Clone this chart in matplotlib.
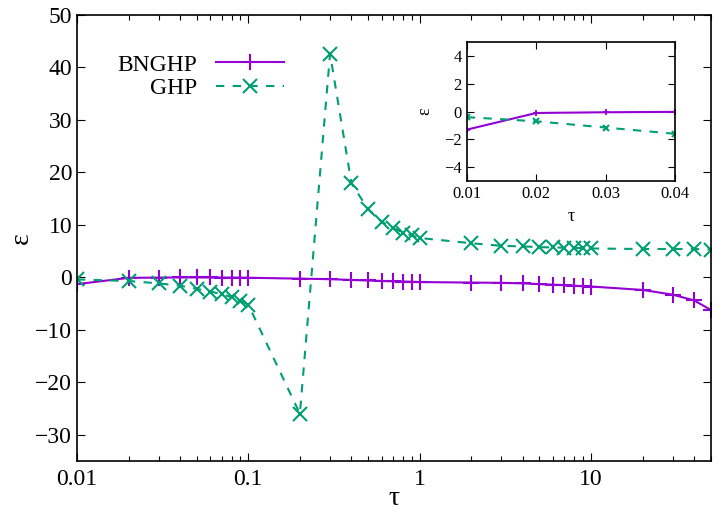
import matplotlib
matplotlib.use("Agg")
import matplotlib.pyplot as plt
from matplotlib.ticker import FixedLocator, LogLocator, NullFormatter

plt.rcParams['font.family'] = ['Liberation Serif', 'DejaVu Serif']
plt.rcParams['axes.unicode_minus'] = True

# data
tau = [0.01, 0.02, 0.03, 0.04, 0.05, 0.06, 0.07, 0.08, 0.09, 0.1,
       0.2, 0.3, 0.4, 0.5, 0.6, 0.7, 0.8, 0.9, 1,
       2, 3, 4, 5, 6, 7, 8, 9, 10, 20, 30, 40, 50]
bnghp = [-1.3, -0.1, -0.05, -0.02, -0.02, -0.03, -0.04, -0.05, -0.06, -0.08,
         -0.25, -0.35, -0.5, -0.6, -0.7, -0.75, -0.8, -0.85, -0.9,
         -1.0, -1.05, -1.15, -1.3, -1.4, -1.5, -1.6, -1.7, -1.75, -2.4, -3.3, -4.4, -6.2]
ghp = [-0.4, -0.7, -1.15, -1.6, -2.2, -2.7, -3.2, -3.8, -4.5, -5.2,
       -26.0, 42.6, 17.9, 13.0, 10.6, 9.4, 8.5, 8.0, 7.5,
       6.5, 6.0, 5.9, 5.75, 5.7, 5.65, 5.6, 5.55, 5.5, 5.4, 5.4, 5.4, 5.3]

inset_tau = tau[:4]
inset_bnghp = bnghp[:4]
inset_ghp = ghp[:4]

purple = '#9400d3'
green = '#009e73'

fig = plt.figure(figsize=(7.26, 5.13), dpi=100)
ax = fig.add_axes([0.106, 0.1014, 0.873, 0.8694])

ax.plot(tau, bnghp, color=purple, lw=1.5, marker='+', ms=11, mew=1.5, label='BNGHP')
ax.plot(tau, ghp, color=green, lw=1.5, ls=(0, (4, 4)), marker='x', ms=10, mew=1.5, label='GHP')

ax.set_xscale('log')
ax.set_xlim(0.01, 50)
ax.set_ylim(-35, 50)
ax.set_xticks([0.01, 0.1, 1, 10])
ax.set_xticklabels(['0.01', '0.1', '1', '10'])
ax.xaxis.set_minor_locator(LogLocator(base=10, subs=range(2, 10)))
ax.xaxis.set_minor_formatter(NullFormatter())
ax.yaxis.set_major_locator(FixedLocator(range(-30, 51, 10)))
ax.tick_params(which='both', direction='in', top=True, right=True, labelsize=17, width=0.8)
ax.tick_params(which='major', length=6)
ax.tick_params(which='minor', length=3.5)
ax.tick_params(axis='x', pad=6)
for s in ax.spines.values():
    s.set_linewidth(1.2)
ax.set_xlabel('τ', fontsize=20)
ax.xaxis.set_label_coords(0.5, -0.055)
ax.set_ylabel('ε', fontsize=20, rotation=90)
ax.yaxis.set_label_coords(-0.068, 0.5)

leg = ax.legend(loc='upper left', bbox_to_anchor=(0.03, 0.96), frameon=False, markerfirst=False,
                fontsize=17, handlelength=2.9, handletextpad=0.8, labelspacing=0.1)
for t in leg.get_texts():
    t.set_ha('right')
leg._legend_box.align = 'right'

# inset
ins = fig.add_axes([0.643, 0.647, 0.287, 0.271])
ins.plot(inset_tau, inset_bnghp, color=purple, lw=1.5, marker='+', ms=5, mew=1.3)
ins.plot(inset_tau, inset_ghp, color=green, lw=1.5, ls=(0, (4, 4)), marker='x', ms=4.5, mew=1.5)
ins.set_xlim(0.01, 0.04)
ins.set_ylim(-5, 5)
ins.set_xticks([0.01, 0.02, 0.03, 0.04])
ins.set_xticklabels(['0.01', '0.02', '0.03', '0.04'])
ins.set_yticks([-4, -2, 0, 2, 4])
ins.tick_params(direction='in', top=True, right=True, labelsize=12, length=5, width=0.8)
for s in ins.spines.values():
    s.set_linewidth(1.2)
ins.set_xlabel('τ', fontsize=13)
ins.set_ylabel('ε', fontsize=13, rotation=90, labelpad=8)

fig.savefig('out.png', dpi=100)
